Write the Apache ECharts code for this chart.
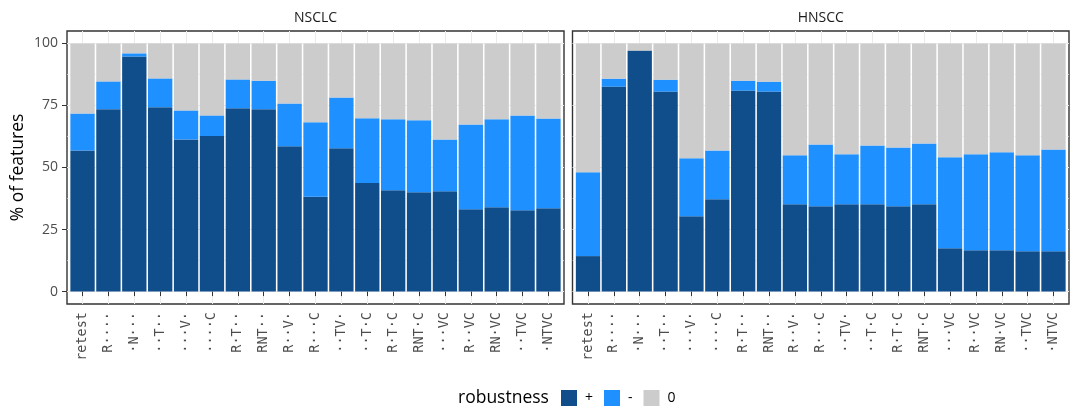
<!DOCTYPE html>
<html>
<head>
<meta charset="utf-8">
<script src="https://cdn.jsdelivr.net/npm/echarts@6/dist/echarts.min.js"></script>
<style>html,body{margin:0;padding:0;background:#fff}#c{width:1073px;height:410px}</style>
</head>
<body>
<div id="c"></div>
<script>
const categories = ['retest','R\u00b7\u00b7\u00b7\u00b7','\u00b7N\u00b7\u00b7\u00b7','\u00b7\u00b7T\u00b7\u00b7','\u00b7\u00b7\u00b7V\u00b7','\u00b7\u00b7\u00b7\u00b7C','R\u00b7T\u00b7\u00b7','RNT\u00b7\u00b7','R\u00b7\u00b7V\u00b7','R\u00b7\u00b7\u00b7C','\u00b7\u00b7TV\u00b7','\u00b7\u00b7T\u00b7C','R\u00b7T\u00b7C','RNT\u00b7C','\u00b7\u00b7\u00b7VC','R\u00b7\u00b7VC','RN\u00b7VC','\u00b7\u00b7TVC','\u00b7NTVC'];
const panels = ['NSCLC', 'HNSCC'];
const robustness = ['+', '-', '0'];
const yTicks = [0, 25, 50, 75, 100];
const yMinor = [12.5, 37.5, 62.5, 87.5];

const nsclcPlus  = [56.9,73.5,94.7,74.3,61.3,62.7,73.9,73.5,58.6,38.2,57.8,43.8,40.8,40.0,40.4,33.2,34.0,32.8,33.6];
const nsclcMinus = [14.9,11.2,1.3,11.6,11.7,8.3,11.6,11.5,17.2,30.0,20.4,26.0,28.6,29.0,20.9,34.1,35.4,38.2,36.1];
const nsclcZero  = [28.2,15.3,4.0,14.1,27.0,29.0,14.5,15.0,24.2,31.8,21.8,30.2,30.6,31.0,38.7,32.7,30.6,29.0,30.3];

const hnsccPlus  = [14.3,82.6,97.1,80.6,30.4,37.2,81.0,80.6,35.2,34.4,35.2,35.2,34.4,35.2,17.5,16.7,16.7,16.3,16.3];
const hnsccMinus = [33.8,3.2,0.0,4.8,23.3,19.7,4.0,4.0,19.7,24.9,20.1,23.7,23.7,24.5,36.6,38.6,39.4,38.6,41.0];
const hnsccZero  = [51.9,14.2,2.9,14.6,46.3,43.1,15.0,15.4,45.1,40.7,44.7,41.1,41.9,40.3,45.9,44.7,43.9,45.1,42.7];

const colors = ['#104E8B', '#1E90FF', '#CCCCCC'];
const panelData = [[nsclcPlus, nsclcMinus, nsclcZero], [hnsccPlus, hnsccMinus, hnsccZero]];
const xPos = categories.map((c, i) => i + 1);

// panel frames (ggplot panels incl. expansion) and inner data areas
const frames = [
  {left: 67, top: 31, width: 497, height: 273},
  {left: 572.5, top: 31, width: 496.5, height: 273}
];
const expand = 0.6; // category units of padding each side
const n = categories.length;

const gridOpts = [], xAxes = [], yAxes = [], series = [];
// frame grids: border, gridlines, ticks, labels
frames.forEach((f, gi) => {
  gridOpts.push(Object.assign({show: true, borderColor: '#333333', borderWidth: 1.4, backgroundColor: '#fff', outerBoundsMode: 'none', containLabel: false}, f));
  xAxes.push({
    type: 'value', gridIndex: gi, min: 1 - expand, max: n + expand,
    axisLine: {show: false},
    axisTick: {show: true, customValues: xPos, length: 4.5, lineStyle: {color: '#333333', width: 1}},
    axisLabel: {show: true, customValues: xPos, rotate: 90, margin: 8,
      fontFamily: 'DejaVu Sans Mono', fontSize: 13.5, color: '#4D4D4D',
      formatter: v => categories[Math.round(v) - 1]},
    splitLine: {show: true, lineStyle: {color: '#EBEBEB', width: 1}}
  });
  yAxes.push({
    type: 'value', gridIndex: gi, min: -5, max: 105,
    name: gi === 0 ? '% of features' : '', nameLocation: 'middle', nameGap: 40,
    nameTextStyle: {fontFamily: 'Open Sans', fontSize: 17.5, color: '#000'},
    axisLine: {show: false},
    axisTick: {show: gi === 0, customValues: yTicks, length: 5, lineStyle: {color: '#333333', width: 1}},
    axisLabel: {show: gi === 0, customValues: yTicks, margin: 9, fontFamily: 'Open Sans', fontSize: 14, color: '#4D4D4D'},
    splitLine: {show: true, lineStyle: {color: '#EBEBEB', width: 1.1}}
  });
  yAxes.push({
    type: 'value', gridIndex: gi, min: -5, max: 105, position: 'left',
    axisLine: {show: false},
    axisTick: {show: false, customValues: yMinor},
    axisLabel: {show: false},
    splitLine: {show: true, lineStyle: {color: '#EFEFEF', width: 0.6}}
  });
});
// data grids: category axis for stacked bars
frames.forEach((f, pi) => {
  const gi = frames.length + pi;
  const unit = f.width / (n - 1 + 2 * expand);
  gridOpts.push({show: false, left: f.left + (expand - 0.5) * unit, top: f.top, width: n * unit, height: f.height, outerBoundsMode: 'none', containLabel: false});
  xAxes.push({type: 'category', gridIndex: gi, data: categories, show: false, boundaryGap: true});
  const yi = yAxes.length;
  yAxes.push({type: 'value', gridIndex: gi, min: -5, max: 105, show: false, splitLine: {show: false}});
  robustness.forEach((r, ri) => {
    series.push({
      type: 'bar', name: r, xAxisIndex: gi, yAxisIndex: yi, stack: 'p' + pi,
      barWidth: '94%',
      itemStyle: {color: colors[ri]},
      emphasis: {disabled: true},
      data: panelData[pi][ri]
    });
  });
});

const chart = echarts.init(document.getElementById('c'), null, {renderer: 'canvas'});
chart.setOption({
  animation: false,
  backgroundColor: '#ffffff',
  grid: gridOpts,
  xAxis: xAxes,
  yAxis: yAxes,
  series: series,
  legend: {
    data: robustness, left: 561, top: 390, padding: 0, itemWidth: 16, itemHeight: 16, itemGap: 11,
    icon: 'rect', selectedMode: false,
    textStyle: {fontFamily: 'Open Sans', fontSize: 14, color: '#000', padding: [0, 0, 0, 3]}
  },
  graphic: [
    {type: 'text', x: frames[0].left + frames[0].width / 2, y: 18, style: {text: panels[0], fontFamily: 'Open Sans', fontSize: 14, fill: '#1A1A1A', align: 'center', verticalAlign: 'middle'}},
    {type: 'text', x: frames[1].left + frames[1].width / 2, y: 18, style: {text: panels[1], fontFamily: 'Open Sans', fontSize: 14, fill: '#1A1A1A', align: 'center', verticalAlign: 'middle'}},
    {type: 'text', x: 458, y: 398, style: {text: 'robustness', fontFamily: 'Open Sans', fontSize: 17.5, fill: '#000', align: 'left', verticalAlign: 'middle'}}
  ]
});
</script>
</body>
</html>
